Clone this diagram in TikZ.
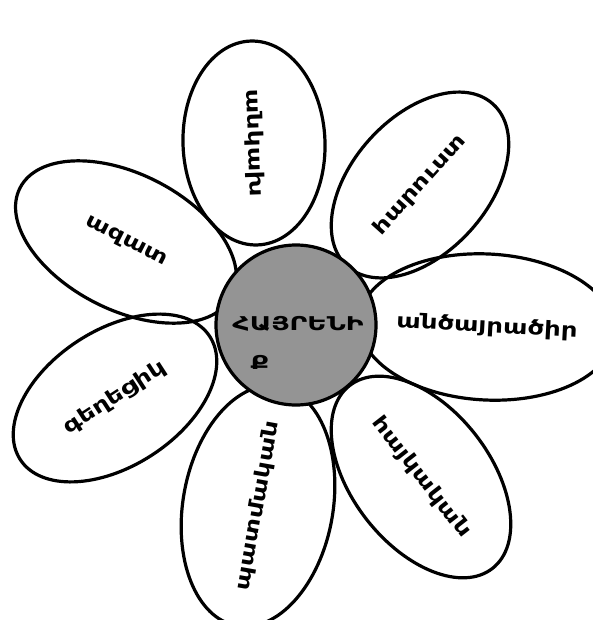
\documentclass[tikz,border=0pt]{standalone}
\usepackage{fontspec}
\setmainfont{DejaVu Sans}
\newfontfamily\armwide{DejaVu Sans}[FakeStretch=1.3]
\newfontfamily\armcore{DejaVu Sans}[FakeStretch=1.4]
\usetikzlibrary{shapes.geometric}
\begin{document}
\begin{tikzpicture}[x=1pt,y=-1pt,
  petal/.style={ellipse,draw=black,line width=3.2pt,inner sep=0pt,
    font=\armwide\fontsize{20}{22}\selectfont\bfseries},
  core/.style={circle,draw=black,line width=3.2pt,fill=black!42,inner sep=0pt,minimum size=160pt},
  coretext/.style={font=\armcore\fontsize{19}{21}\selectfont\bfseries,inner sep=1pt}]
\useasboundingbox (0,0) rectangle (593,620);
\node[petal,rotate=-88,minimum width=204pt,minimum height=142pt] (top) at (254,143) {անկախ};
\node[petal,rotate=48,minimum width=218pt,minimum height=136pt] (topright) at (420,185) {հարուստ};
\node[petal,rotate=-27,minimum width=238pt,minimum height=136pt] (left) at (126,242) {ազատ};
\node[petal,rotate=-3,minimum width=212pt,minimum height=146pt] (right) at (487,327) {անծայրածիր};
\node[petal,rotate=33,minimum width=226pt,minimum height=136pt] (bottomleft) at (115,398) {գեղեցիկ};
\node[petal,rotate=80,minimum width=214pt,minimum height=150pt] (bottom) at (258,506) {պատմական};
\node[petal,rotate=-52,minimum width=232pt,minimum height=138pt] (bottomright) at (421,477) {հայկական};
\node[core] (center) at (296,325) {};
\node[coretext] (word) at (298,324) {ՀԱՅՐԵՆԻ};
\node[coretext] (wordend) at (260,362) {Ք};
\end{tikzpicture}
\end{document}
